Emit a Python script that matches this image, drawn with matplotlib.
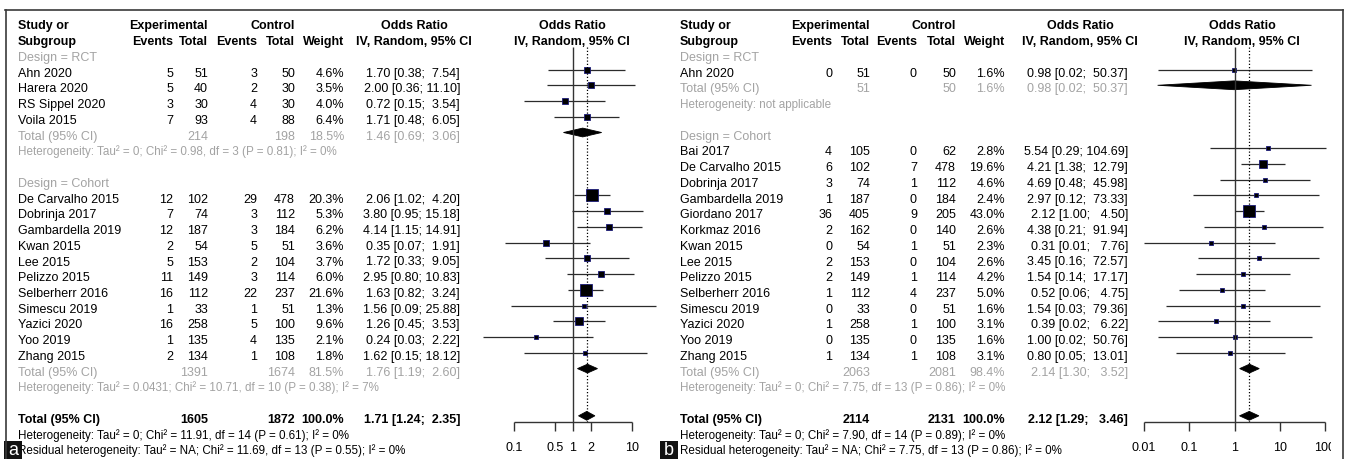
import numpy as np
import matplotlib
matplotlib.use("Agg")
import matplotlib.pyplot as plt
from matplotlib.lines import Line2D
from matplotlib.patches import Rectangle, Polygon

plt.rcParams['font.family'] = ['Liberation Sans', 'DejaVu Sans']

# ------------------------------------------------------------------ data
# Panel a
a_rct_study = ["Ahn 2020", "Harera 2020", "RS Sippel 2020", "Voila 2015"]
a_rct_ev_e = [5, 5, 3, 7]
a_rct_n_e = [51, 40, 30, 93]
a_rct_ev_c = [3, 2, 4, 4]
a_rct_n_c = [50, 30, 30, 88]
a_rct_w = [4.6, 3.5, 4.0, 6.4]
a_rct_or = [1.70, 2.00, 0.72, 1.71]
a_rct_lo = [0.38, 0.36, 0.15, 0.48]
a_rct_hi = [7.54, 11.10, 3.54, 6.05]
a_rct_total = [214, 198, 18.5, 1.46, 0.69, 3.06]
a_rct_het = "Heterogeneity: Tau² = 0; Chi² = 0.98, df = 3 (P = 0.81); I² = 0%"

a_coh_study = ["De Carvalho 2015", "Dobrinja 2017", "Gambardella 2019", "Kwan 2015",
               "Lee 2015", "Pelizzo 2015", "Selberherr 2016", "Simescu 2019",
               "Yazici 2020", "Yoo 2019", "Zhang 2015"]
a_coh_ev_e = [12, 7, 12, 2, 5, 11, 16, 1, 16, 1, 2]
a_coh_n_e = [102, 74, 187, 54, 153, 149, 112, 33, 258, 135, 134]
a_coh_ev_c = [29, 3, 3, 5, 2, 3, 22, 1, 5, 4, 1]
a_coh_n_c = [478, 112, 184, 51, 104, 114, 237, 51, 100, 135, 108]
a_coh_w = [20.3, 5.3, 6.2, 3.6, 3.7, 6.0, 21.6, 1.3, 9.6, 2.1, 1.8]
a_coh_or = [2.06, 3.80, 4.14, 0.35, 1.72, 2.95, 1.63, 1.56, 1.26, 0.24, 1.62]
a_coh_lo = [1.02, 0.95, 1.15, 0.07, 0.33, 0.80, 0.82, 0.09, 0.45, 0.03, 0.15]
a_coh_hi = [4.20, 15.18, 14.91, 1.91, 9.05, 10.83, 3.24, 25.88, 3.53, 2.22, 18.12]
a_coh_total = [1391, 1674, 81.5, 1.76, 1.19, 2.60]
a_coh_het = "Heterogeneity: Tau² = 0.0431; Chi² = 10.71, df = 10 (P = 0.38); I² = 7%"

a_overall = [1605, 1872, 100.0, 1.71, 1.24, 2.35]
a_overall_het = "Heterogeneity: Tau² = 0; Chi² = 11.91, df = 14 (P = 0.61); I² = 0%"
a_resid_het = "Residual heterogeneity: Tau² = NA; Chi² = 11.69, df = 13 (P = 0.55); I² = 0%"
a_ticks = [0.1, 0.5, 1, 2, 10]

# Panel b
b_rct_study = ["Ahn 2020"]
b_rct_ev_e = [0]
b_rct_n_e = [51]
b_rct_ev_c = [0]
b_rct_n_c = [50]
b_rct_w = [1.6]
b_rct_or = [0.98]
b_rct_lo = [0.02]
b_rct_hi = [50.37]
b_rct_total = [51, 50, 1.6, 0.98, 0.02, 50.37]
b_rct_het = "Heterogeneity: not applicable"

b_coh_study = ["Bai 2017", "De Carvalho 2015", "Dobrinja 2017", "Gambardella 2019",
               "Giordano 2017", "Korkmaz 2016", "Kwan 2015", "Lee 2015", "Pelizzo 2015",
               "Selberherr 2016", "Simescu 2019", "Yazici 2020", "Yoo 2019", "Zhang 2015"]
b_coh_ev_e = [4, 6, 3, 1, 36, 2, 0, 2, 2, 1, 0, 1, 0, 1]
b_coh_n_e = [105, 102, 74, 187, 405, 162, 54, 153, 149, 112, 33, 258, 135, 134]
b_coh_ev_c = [0, 7, 1, 0, 9, 0, 1, 0, 1, 4, 0, 1, 0, 1]
b_coh_n_c = [62, 478, 112, 184, 205, 140, 51, 104, 114, 237, 51, 100, 135, 108]
b_coh_w = [2.8, 19.6, 4.6, 2.4, 43.0, 2.6, 2.3, 2.6, 4.2, 5.0, 1.6, 3.1, 1.6, 3.1]
b_coh_or = [5.54, 4.21, 4.69, 2.97, 2.12, 4.38, 0.31, 3.45, 1.54, 0.52, 1.54, 0.39, 1.00, 0.80]
b_coh_lo = [0.29, 1.38, 0.48, 0.12, 1.00, 0.21, 0.01, 0.16, 0.14, 0.06, 0.03, 0.02, 0.02, 0.05]
b_coh_hi = [104.69, 12.79, 45.98, 73.33, 4.50, 91.94, 7.76, 72.57, 17.17, 4.75, 79.36, 6.22, 50.76, 13.01]
b_coh_total = [2063, 2081, 98.4, 2.14, 1.30, 3.52]
b_coh_het = "Heterogeneity: Tau² = 0; Chi² = 7.75, df = 13 (P = 0.86); I² = 0%"

b_overall = [2114, 2131, 100.0, 2.12, 1.29, 3.46]
b_overall_het = "Heterogeneity: Tau² = 0; Chi² = 7.90, df = 14 (P = 0.89); I² = 0%"
b_resid_het = "Residual heterogeneity: Tau² = NA; Chi² = 7.75, df = 13 (P = 0.86); I² = 0%"
b_ticks = [0.01, 0.1, 1, 10, 100]

group_labels = ["Design = RCT", "Design = Cohort"]

# ------------------------------------------------------------------ layout
W, H, DPI = 1347, 459, 100
ROW0, ROWH = 25.0, 15.74          # pixel y of row 0 and row spacing
FS, FS_HET = 9.0, 8.4
GRAY = "#a3a3a3"
BASE = 4.4 / ROWH                 # baseline offset (rows)
MOFF = -0.17                      # mark offset relative to text row
AXIS_ROW = (422 - ROW0) / ROWH
TOP_ROW = (47 - ROW0) / ROWH
TICKLAB_ROW = (448 - ROW0) / ROWH

fig = plt.figure(figsize=(W / DPI, H / DPI), dpi=DPI)
ylim = ((H - ROW0) / ROWH, -ROW0 / ROWH)

axt = fig.add_axes([0, 0, 1, 1])
axt.set_xlim(0, W)
axt.set_ylim(*ylim)
axt.axis("off")


def put(x, r, s, ha="left", color="black", bold=False, size=FS):
    axt.text(x, r + BASE, s, ha=ha, va="baseline", color=color, fontsize=size,
             fontweight="bold" if bold else "normal")


def fmt_or(est, lo, hi, w):
    return f"{est:.2f} [{lo:.2f}; " + " " * (w - len(f"{hi:.2f}")) + f"{hi:.2f}]"


def panel(cols, groups, overall, overall_het, resid_het, ticks, fx, one_px, dec_px,
          hdr_or, hdr_forest):
    (xs, xee, xne, xec, xnc, xw, xor) = cols
    # forest axes
    ax = fig.add_axes([fx[0] / W, 0, (fx[1] - fx[0]) / W, 1])
    ax.set_xscale("log")
    ax.set_xlim(10 ** ((fx[0] - one_px) / dec_px), 10 ** ((fx[1] - one_px) / dec_px))
    ax.set_ylim(*ylim)
    ax.axis("off")

    allhi = [h for g in groups for h in g[7]] + [g[8][5] for g in groups] + [overall[5]]
    wmax_len = max(len(f"{h:.2f}") for h in allhi)
    allw = [w for g in groups for w in g[5]]
    wmax = max(allw)

    # headers
    put(xs, 0, "Study or", bold=True)
    put(xs, 1, "Subgroup", bold=True)
    put(xne, 0, "Experimental", ha="right", bold=True)
    put(xnc, 0, "Control", ha="right", bold=True)
    put(xee, 1, "Events", ha="right", bold=True)
    put(xne, 1, "Total", ha="right", bold=True)
    put(xec, 1, "Events", ha="right", bold=True)
    put(xnc, 1, "Total", ha="right", bold=True)
    put(xw, 1, "Weight", ha="right", bold=True)
    put(hdr_or, 0, "Odds Ratio", ha="center", bold=True)
    put(hdr_or, 1, "IV, Random, 95% CI", ha="center", bold=True)
    put(hdr_forest, 0, "Odds Ratio", ha="center", bold=True)
    put(hdr_forest, 1, "IV, Random, 95% CI", ha="center", bold=True)

    def diamond(r, est, lo, hi):
        h = 0.28
        ax.add_patch(Polygon([(lo, r), (est, r - h), (hi, r), (est, r + h)],
                             closed=True, facecolor="black", edgecolor="black", lw=0.6))

    row = 2
    for (label, study, ev_e, n_e, ev_c, n_c, w, orr, lo, hi, tot, het) in \
            [(g[9], g[0], g[1], g[2], g[3], g[4], g[5], g[6], g[10], g[7], g[8], g[11]) for g in groups]:
        put(xs, row, label, color=GRAY)
        row += 1
        for i in range(len(study)):
            put(xs, row, study[i])
            put(xee, row, str(ev_e[i]), ha="right")
            put(xne, row, str(n_e[i]), ha="right")
            put(xec, row, str(ev_c[i]), ha="right")
            put(xnc, row, str(n_c[i]), ha="right")
            put(xw, row, f"{w[i]:.1f}%", ha="right")
            put(xor, row, fmt_or(orr[i], lo[i], hi[i], wmax_len), ha="right")
            ax.hlines(row + MOFF, lo[i], hi[i], color="#2b2b2b", lw=0.9)
            side_px = max(3.4, 12.5 * np.sqrt(w[i] / wmax))
            ax.plot([orr[i]], [row + MOFF], marker="s", ms=side_px * 0.72,
                    mfc="black", mec="#1a1a78", mew=0.6, ls="none")
            row += 1
        put(xs, row, "Total (95% CI)", color=GRAY)
        put(xne, row, str(tot[0]), ha="right", color=GRAY)
        put(xnc, row, str(tot[1]), ha="right", color=GRAY)
        put(xw, row, f"{tot[2]:.1f}%", ha="right", color=GRAY)
        put(xor, row, fmt_or(tot[3], tot[4], tot[5], wmax_len), ha="right", color=GRAY)
        diamond(row + MOFF, tot[3], tot[4], tot[5])
        row += 1
        put(xs, row, het, color=GRAY, size=FS_HET)
        row += 2

    put(xs, row, "Total (95% CI)", bold=True)
    put(xne, row, str(overall[0]), ha="right", bold=True)
    put(xnc, row, str(overall[1]), ha="right", bold=True)
    put(xw, row, f"{overall[2]:.1f}%", ha="right", bold=True)
    put(xor, row, fmt_or(overall[3], overall[4], overall[5], wmax_len), ha="right", bold=True)
    diamond(row + MOFF, overall[3], overall[4], overall[5])
    put(xs, row + 1, overall_het, size=FS_HET)
    put(xs, row + 2, resid_het, size=FS_HET)

    # reference lines
    ax.vlines(1, TOP_ROW, AXIS_ROW, color="#333333", lw=1.0)
    ax.vlines(overall[3], TOP_ROW, AXIS_ROW, color="black", lw=0.9,
              linestyles=(0, (1.0, 1.6)))
    # axis
    ax.hlines(AXIS_ROW, ticks[0], ticks[-1], color="#333333", lw=1.0)
    ax.vlines(ticks, AXIS_ROW, AXIS_ROW + 9 / ROWH, color="#333333", lw=1.0)
    for t in ticks:
        ax.text(t, TICKLAB_ROW, f"{t:g}", ha="center", va="center", fontsize=FS,
                clip_on=True)
    return ax


groups_a = [
    (a_rct_study, a_rct_ev_e, a_rct_n_e, a_rct_ev_c, a_rct_n_c, a_rct_w, a_rct_or,
     a_rct_hi, a_rct_total, group_labels[0], a_rct_lo, a_rct_het),
    (a_coh_study, a_coh_ev_e, a_coh_n_e, a_coh_ev_c, a_coh_n_c, a_coh_w, a_coh_or,
     a_coh_hi, a_coh_total, group_labels[1], a_coh_lo, a_coh_het),
]
groups_b = [
    (b_rct_study, b_rct_ev_e, b_rct_n_e, b_rct_ev_c, b_rct_n_c, b_rct_w, b_rct_or,
     b_rct_hi, b_rct_total, group_labels[0], b_rct_lo, b_rct_het),
    (b_coh_study, b_coh_ev_e, b_coh_n_e, b_coh_ev_c, b_coh_n_c, b_coh_w, b_coh_or,
     b_coh_hi, b_coh_total, group_labels[1], b_coh_lo, b_coh_het),
]

panel((18, 173, 208, 257, 295, 344, 460), groups_a, a_overall, a_overall_het,
      a_resid_het, a_ticks, (440, 668), 573, 59, 414, 572)
panel((680, 832, 870, 917, 956, 1005, 1128), groups_b, b_overall, b_overall_het,
      b_resid_het, b_ticks, (1126, 1331), 1234.5, 45.25, 1080, 1242)

# ------------------------------------------------------------------ frame & labels
def fx(p):
    return p / W


def fy(p):
    return 1 - p / H


for (x0, y0, x1, y1) in [(5, 9.5, 1343, 9.5), (5.5, 9.5, 5.5, H), (1343, 9.5, 1343, H)]:
    fig.add_artist(Line2D([fx(x0), fx(x1)], [fy(y0), fy(y1)], color="#3a3a3a", lw=1.2,
                          transform=fig.transFigure))

for (x0, x1, lab) in [(4, 22, "a"), (660, 678, "b")]:
    fig.add_artist(Rectangle((fx(x0), fy(H)), fx(x1 - x0), 18 / H, transform=fig.transFigure,
                             facecolor="#111111", edgecolor="none"))
    fig.text(fx((x0 + x1) / 2), fy(H - 8.5), lab, color="white", fontsize=13,
             ha="center", va="center")

fig.savefig("out.png", dpi=DPI)
